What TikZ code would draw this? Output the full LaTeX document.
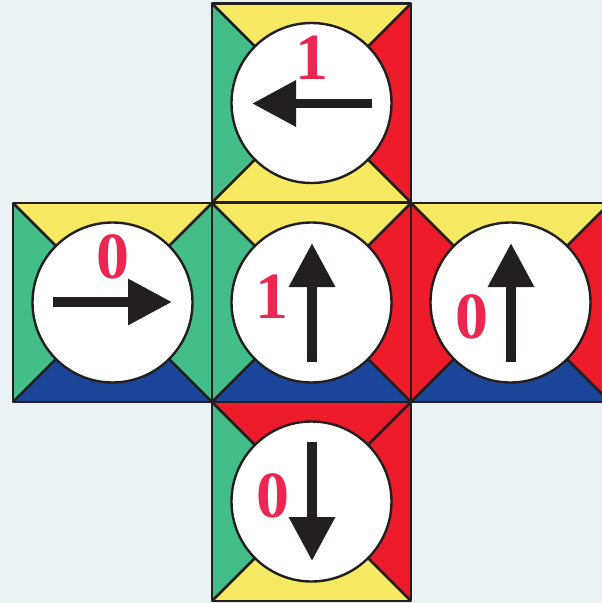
\documentclass[tikz,border=0pt]{standalone}
\usepackage{fontspec}
\setmainfont{Liberation Serif}
\usetikzlibrary{arrows.meta}
\definecolor{bgc}{HTML}{EAF3F3}
\definecolor{fy}{HTML}{F7EA62}
\definecolor{fg}{HTML}{43BE88}
\definecolor{fr}{HTML}{EE1C2A}
\definecolor{fb}{HTML}{1B4598}
\definecolor{lab}{HTML}{EC2652}
\definecolor{ark}{HTML}{231F20}
\tikzset{
  edge/.style={draw=ark,line width=2.6pt,line join=round},
  disc/.style={circle,draw=ark,fill=white,line width=2.4pt,minimum size=160pt,inner sep=0pt},
  digit/.style={text=lab,inner sep=0pt,font=\bfseries\fontsize{66}{66}\selectfont},
  bigarrow/.style={draw=ark,line width=9.5pt,-{Triangle[length=44pt,width=44pt]}}
}
% #1 name, #2 x, #3 y (top-left), #4 top, #5 right, #6 bottom, #7 left
\newcommand{\cubeface}[7]{%
  \coordinate (#1-a) at (#2,#3);
  \coordinate (#1-b) at ($(#2,#3)+(199,0)$);
  \coordinate (#1-c) at ($(#2,#3)+(199,199)$);
  \coordinate (#1-d) at ($(#2,#3)+(0,199)$);
  \coordinate (#1-m) at ($(#2,#3)+(99.5,99.5)$);
  \fill[#4] (#1-a) -- (#1-b) -- (#1-m) -- cycle;
  \fill[#5] (#1-b) -- (#1-c) -- (#1-m) -- cycle;
  \fill[#6] (#1-c) -- (#1-d) -- (#1-m) -- cycle;
  \fill[#7] (#1-d) -- (#1-a) -- (#1-m) -- cycle;
  \draw[edge] (#1-a) -- (#1-c) (#1-b) -- (#1-d);
  \draw[edge] (#1-a) rectangle (#1-c);
  \node[disc] (#1-o) at (#1-m) {};
}
\usetikzlibrary{calc}
\begin{document}
\begin{tikzpicture}[x=1pt,y=-1pt]
\useasboundingbox (0,0) rectangle (602,603);
\fill[bgc] (0,0) rectangle (602,603);
\clip (0,0) rectangle (602,603);
\cubeface{T}{212}{3.5}{fy}{fr}{fy}{fg}
\cubeface{L}{13}{203}{fy}{fg}{fb}{fg}
\cubeface{C}{212}{203}{fy}{fr}{fb}{fg}
\cubeface{R}{411}{203}{fy}{fr}{fb}{fr}
\cubeface{B}{212}{402}{fr}{fr}{fy}{fg}
% arrows
\coordinate (T-s) at (372,103.5); \coordinate (T-e) at (252,103.5);
\coordinate (L-s) at (53,302);    \coordinate (L-e) at (172,302);
\coordinate (C-s) at (312,362);   \coordinate (C-e) at (312,243);
\coordinate (R-s) at (511,362);   \coordinate (R-e) at (511,243);
\coordinate (B-s) at (312,442);   \coordinate (B-e) at (312,561);
\foreach \f in {T,L,C,R,B} \draw[bigarrow] (\f-s) -- (\f-e);
% labels
\node[digit] (T-l) at (312,58) {1};
\node[digit] (L-l) at (113,257) {0};
\node[digit] (C-l) at (272,297) {1};
\node[digit] (R-l) at (472,317) {0};
\node[digit] (B-l) at (273,496) {0};
\end{tikzpicture}
\end{document}
